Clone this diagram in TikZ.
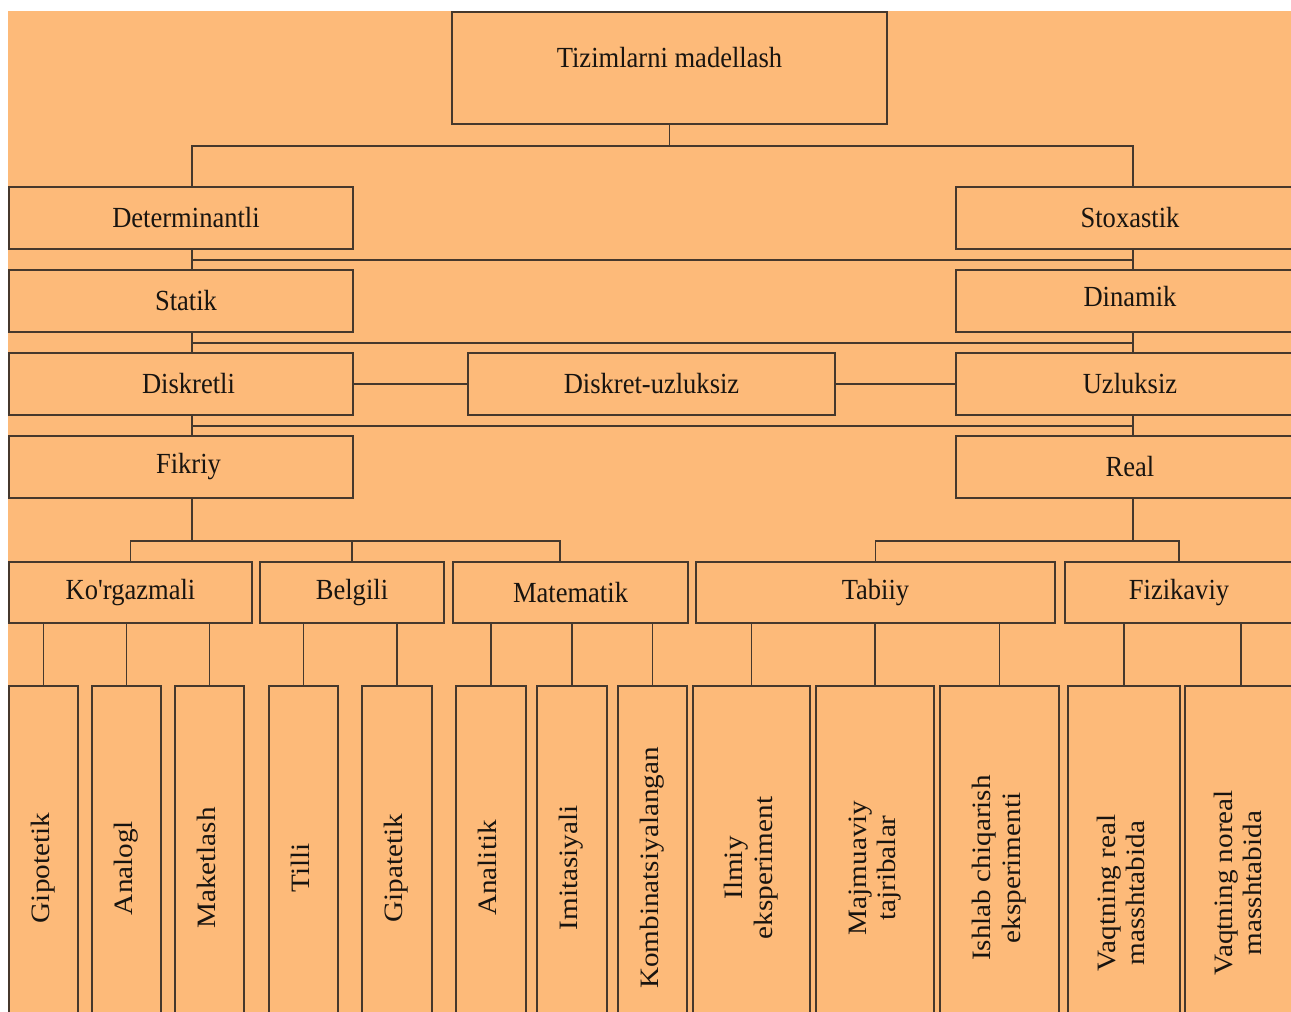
\documentclass[tikz,border=0pt]{standalone}
\usepackage{fontspec}
\usepackage{graphicx}
\setmainfont{Liberation Serif}
\newfontfamily\hfont{Liberation Serif}[FakeStretch=0.91]
\newfontfamily\vfont{Liberation Serif}[FakeStretch=1.1]
\usetikzlibrary{positioning}
\definecolor{bgorange}{RGB}{253,186,121}
\definecolor{linebrown}{RGB}{70,56,44}
\definecolor{textdark}{RGB}{24,20,16}
\newcommand{\vlabel}[1]{\rotatebox{90}{\vfont\fontsize{15.1}{17}\selectfont\begin{tabular}{@{}c@{}}#1\end{tabular}}}

\begin{document}
\begin{tikzpicture}[x=1cm, y=1cm,
  font=\hfont\fontsize{16.6}{19}\selectfont, text=textdark,
  box/.style={rectangle,draw=linebrown,line width=1.1pt,minimum height=1.24cm},
  midbox/.style={rectangle,draw=linebrown,line width=1.1pt,minimum height=1.22cm},
  leaf/.style={rectangle,draw=linebrown,line width=1.1pt,minimum height=7.28cm},
  link/.style={draw=linebrown,line width=1.1pt}]
\useasboundingbox (0,0) rectangle (25.82,20.24);
\fill[bgorange] (0.16,0) rectangle (25.82,20.02);
\clip (0,0) rectangle (25.82,20.24);

% Root
\node[box,minimum width=8.7cm,minimum height=2.24cm,text depth=0.42cm] (tiz) at (13.39,18.88) {Tizimlarni madellash};
% Left and right columns
\node[box,minimum width=6.88cm] (det) at (3.62,15.88) {\hspace*{0.2cm}Determinantli};
\node[box,minimum width=6.96cm] (sto) at (22.6,15.88) {Stoxastik};
\node[box,minimum width=6.88cm] (sta) at (3.62,14.22) {\hspace*{0.2cm}Statik};
\node[box,minimum width=6.96cm,text depth=0.2cm] (din) at (22.6,14.22) {Dinamik};
\node[box,minimum width=6.88cm] (dis) at (3.62,12.56) {\hspace*{0.3cm}Diskretli};
\node[box,minimum width=7.34cm] (du) at (13.03,12.56) {Diskret-uzluksiz};
\node[box,minimum width=6.96cm] (uzl) at (22.6,12.56) {Uzluksiz};
\node[box,minimum width=6.88cm] (fik) at (3.62,10.9) {\hspace*{0.3cm}Fikriy};
\node[box,minimum width=6.96cm] (rea) at (22.6,10.9) {Real};
\coordinate (lsp) at (3.84,0);
\coordinate (rsp) at (22.66,0);

% Second row
\node[midbox,minimum width=4.86cm] (kor) at (2.61,8.39) {Ko'rgazmali};
\node[midbox,minimum width=3.68cm] (bel) at (7.04,8.39) {Belgili};
\node[midbox,minimum width=4.7cm] (mat) at (11.41,8.39) {Matematik};
\node[midbox,minimum width=7.18cm] (tab) at (17.51,8.39) {Tabiiy};
\node[midbox,minimum width=4.56cm] (fiz) at (23.58,8.39) {Fizikaviy};

% Leaves
\node[leaf,minimum width=1.38cm] (gip) at (0.87,2.88) {\vlabel{Gipotetik}};
\node[leaf,minimum width=1.38cm] (ana) at (2.53,2.88) {\vlabel{Analogl}};
\node[leaf,minimum width=1.38cm] (mak) at (4.19,2.88) {\vlabel{Maketlash}};
\node[leaf,minimum width=1.38cm] (til) at (6.07,2.88) {\vlabel{Tilli}};
\node[leaf,minimum width=1.4cm] (gpa) at (7.94,2.88) {\vlabel{Gipatetik}};
\node[leaf,minimum width=1.4cm] (anl) at (9.82,2.88) {\vlabel{Analitik}};
\node[leaf,minimum width=1.4cm] (imi) at (11.44,2.88) {\vlabel{Imitasiyali}};
\node[leaf,minimum width=1.38cm] (kom) at (13.05,2.88) {\vlabel{Kombinatsiyalangan}};
\node[leaf,minimum width=2.34cm] (ilm) at (15.03,2.88) {\vlabel{Ilmiy\\eksperiment}};
\node[leaf,minimum width=2.36cm] (maj) at (17.5,2.88) {\vlabel{Majmuaviy\\tajribalar}};
\node[leaf,minimum width=2.38cm] (ish) at (19.99,2.88) {\vlabel{Ishlab chiqarish\\eksperimenti}};
\node[leaf,minimum width=2.24cm] (vre) at (22.48,2.88) {\raisebox{-0.5cm}[\height][0pt]{\vlabel{Vaqtning real\\masshtabida}}};
\node[leaf,minimum width=2.24cm] (vno) at (24.82,2.88) {\raisebox{-0.3cm}[\height][0pt]{\vlabel{Vaqtning noreal\\masshtabida}}};

% Root fork
\draw[link] (tiz.south) -- ++(0,-0.42) coordinate (tj);
\draw[link] (det.north -| lsp) |- (tj) -| (sto.north -| rsp);
% Column ladders
\draw[link] (det.south -| lsp) -- (sta.north -| lsp);
\draw[link] (sto.south -| rsp) -- (din.north -| rsp);
\draw[link] ([yshift=-0.21cm]det.south -| lsp) -- ([yshift=-0.21cm]sto.south -| rsp);
\draw[link] (sta.south -| lsp) -- (dis.north -| lsp);
\draw[link] (din.south -| rsp) -- (uzl.north -| rsp);
\draw[link] ([yshift=-0.21cm]sta.south -| lsp) -- ([yshift=-0.21cm]din.south -| rsp);
\draw[link] (dis.south -| lsp) -- (fik.north -| lsp);
\draw[link] (uzl.south -| rsp) -- (rea.north -| rsp);
\draw[link] ([yshift=-0.21cm]dis.south -| lsp) -- ([yshift=-0.21cm]uzl.south -| rsp);
% Diskret-uzluksiz in between
\draw[link] (dis.east) -- (du.west);
\draw[link] (du.east) -- (uzl.west);

% Fikriy fork
\draw[link] (fik.south -| lsp) -- ++(0,-0.84) coordinate (fj);
\draw[link] (kor.north) |- (fj) -| ([xshift=-0.21cm]mat.north);
\draw[link] (bel.north) -- (bel.north |- fj);
% Real fork
\draw[link] (rea.south -| rsp) -- ++(0,-0.84) coordinate (rj);
\draw[link] (tab.north) |- (rj) -| (fiz.north);

% Leaf stems
\draw[link] (gip.north) -- (gip.north |- kor.south);
\draw[link] (ana.north) -- (ana.north |- kor.south);
\draw[link] (mak.north) -- (mak.north |- kor.south);
\draw[link] (til.north) -- (til.north |- bel.south);
\draw[link] (gpa.north) -- (gpa.north |- bel.south);
\draw[link] (anl.north) -- (anl.north |- mat.south);
\draw[link] (imi.north) -- (imi.north |- mat.south);
\draw[link] (kom.north) -- (kom.north |- mat.south);
\draw[link] (ilm.north) -- (ilm.north |- tab.south);
\draw[link] (maj.north) -- (maj.north |- tab.south);
\draw[link] (ish.north) -- (ish.north |- tab.south);
\draw[link] (vre.north) -- (vre.north |- fiz.south);
\draw[link] (vno.north) -- (vno.north |- fiz.south);
\end{tikzpicture}
\end{document}
